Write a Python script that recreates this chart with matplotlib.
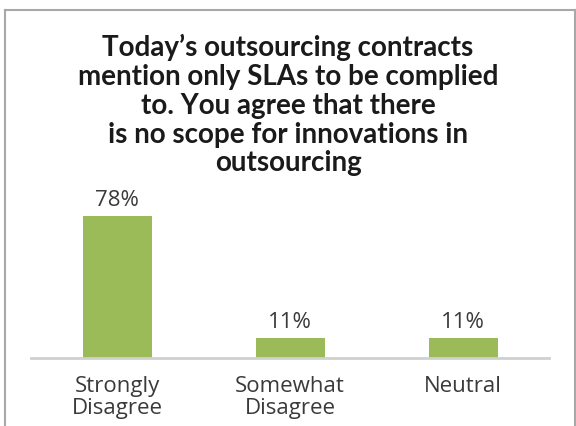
import matplotlib
matplotlib.use("Agg")
import matplotlib.pyplot as plt
from matplotlib.lines import Line2D

categories = ["Strongly\nDisagree", "Somewhat\nDisagree", "Neutral"]
values = [78, 11, 11]
value_labels = ["78%", "11%", "11%"]
title = ("Today\u2019s outsourcing contracts\nmention only SLAs to be complied\n"
         "to. You agree that there\nis no scope for innovations in\noutsourcing")

W, H = 576, 427
fig = plt.figure(figsize=(W / 100, H / 100), dpi=100)
fig.patch.set_facecolor("white")

left, right = 31 / W, 549.5 / W
bottom, top = 1 - 359 / H, 1 - 180 / H
ax = fig.add_axes([left, bottom, right - left, top - bottom])
x = list(range(len(categories)))
ax.bar(x, values, width=0.4, color="#9BBB59")
ax.set_xlim(-0.5, 2.5)
ax.set_ylim(0, 98)
for s in ["top", "right", "left"]:
    ax.spines[s].set_visible(False)
ax.spines["bottom"].set_color("#D0D0D0")
ax.spines["bottom"].set_linewidth(2)
ax.set_yticks([])
ax.set_xticks(x)
ax.set_xticklabels(categories, fontsize=16, color="#3a3a3a", family="Open Sans",
                   linespacing=1.05)
ax.tick_params(axis="x", length=0, pad=12.5)
for xi, v, lab in zip(x, values, value_labels):
    ax.annotate(lab, (xi, v), xytext=(0, 4), textcoords="offset points",
                ha="center", va="bottom", fontsize=16, color="#3a3a3a",
                family="Open Sans")

fig.text(288 / W, 1 - 105 / H, title, ha="center", va="center", fontsize=20,
         fontweight="bold", family="Lato", color="#1a1a1a", linespacing=1.14)

bc = "#A8A8A8"
fig.add_artist(Line2D([4.5 / W, 4.5 / W], [0, 1 - 10.5 / H], transform=fig.transFigure, color=bc, lw=1.5))
fig.add_artist(Line2D([4.5 / W, 574.5 / W], [1 - 10.5 / H, 1 - 10.5 / H], transform=fig.transFigure, color=bc, lw=1.5))
fig.add_artist(Line2D([574.5 / W, 574.5 / W], [0, 1 - 10.5 / H], transform=fig.transFigure, color=bc, lw=1.5))

fig.savefig("out.png", dpi=100)
